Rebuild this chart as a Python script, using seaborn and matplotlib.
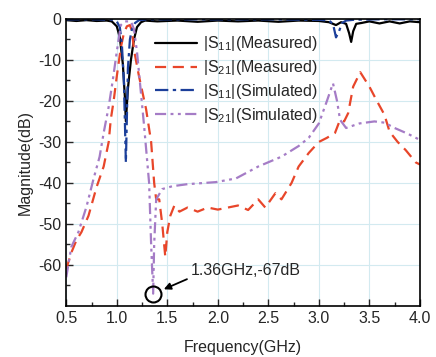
import numpy as np
import seaborn as sns
import matplotlib.pyplot as plt

# |S11| measured (black solid)
f_s11_meas = [0.5, 0.6, 0.7, 0.8, 0.9, 0.95, 1.0, 1.03, 1.06, 1.08, 1.09, 1.11, 1.14, 1.17, 1.2, 1.24, 1.28,
              1.4, 1.6, 1.8, 2.0, 2.2, 2.4, 2.6, 2.8, 3.0, 3.1, 3.17, 3.22, 3.27, 3.3, 3.32, 3.34, 3.37,
              3.42, 3.5, 3.6, 3.7, 3.8, 3.9, 4.0]
db_s11_meas = [-0.3, -0.5, -0.3, -0.5, -0.4, -0.6, -1.8, -4.5, -11, -19, -25, -17, -10, -5, -2, -0.8, -0.4,
               -0.6, -0.4, -0.7, -0.4, -0.6, -0.4, -0.7, -0.4, -0.5, -0.8, -1.5, -0.8, -1.2, -3.5, -5.6, -3.0, -1.2,
               -1.0, -0.6, -1.1, -0.6, -1.1, -0.6, -0.8]

# |S21| measured (red dashed)
f_s21_meas = [0.5, 0.55, 0.6, 0.65, 0.72, 0.8, 0.87, 0.92, 0.94, 0.97, 1.0, 1.04, 1.07, 1.1, 1.13, 1.15, 1.17,
              1.22, 1.29, 1.34, 1.37, 1.39, 1.42, 1.45, 1.48, 1.5, 1.53, 1.57, 1.62, 1.7, 1.8, 1.9, 2.0,
              2.1, 2.2, 2.3, 2.4, 2.47, 2.57, 2.63, 2.73, 2.8, 2.9, 3.0, 3.08, 3.16, 3.21, 3.25, 3.29,
              3.34, 3.41, 3.5, 3.57, 3.65, 3.7, 3.78, 3.86, 3.96, 4.0]
db_s21_meas = [-61, -57, -54, -52, -48, -41, -36, -30, -24.6, -19.8, -14, -7, -3.5, -1.8, -1.5, -3, -7.5,
               -14, -22, -30, -40, -44, -44, -50, -58, -52, -48, -45.5, -47, -46, -47, -46, -46.5,
               -46, -45.5, -46.6, -44, -46, -42.5, -44, -40, -36, -32.7, -30, -29, -27.8, -24.6, -25, -23,
               -16.5, -13, -16.5, -19.8, -23.4, -27.5, -30, -32, -35, -35.5]

# |S11| simulated (blue dash-dot)
f_s11_sim = [0.5, 0.8, 0.95, 1.0, 1.03, 1.05, 1.07, 1.08, 1.09, 1.1, 1.11, 1.13, 1.15, 1.18, 1.22, 1.3,
             1.6, 2.0, 2.5, 3.0, 3.1, 3.14, 3.17, 3.2, 3.23, 3.27, 3.35, 3.6, 4.0]
db_s11_sim = [-0.1, -0.1, -0.2, -0.6, -2, -6, -15, -25, -35, -24, -12, -5, -2.5, -1, -0.3, -0.1,
              -0.1, -0.1, -0.1, -0.2, -0.4, -1.2, -4.5, -3, -1, -0.4, -0.2, -0.1, -0.1]

# |S21| simulated (purple dash-dot-dot)
f_s21_sim = [0.5, 0.55, 0.62, 0.7, 0.77, 0.83, 0.87, 0.92, 0.96, 1.0, 1.04, 1.08, 1.14, 1.17, 1.2, 1.27,
             1.32, 1.34, 1.36, 1.37, 1.39, 1.45, 1.55, 1.7, 1.98, 2.18, 2.4, 2.63, 2.8, 2.9, 3.0,
             3.08, 3.14, 3.18, 3.21, 3.27, 3.4, 3.55, 3.65, 3.75, 3.88, 4.0]
db_s21_sim = [-63, -55.6, -52, -45.8, -39, -33.6, -27.8, -21.4, -15, -8, -1.5, -0.6, -0.6, -2.5, -8, -26,
              -40, -55, -67, -55, -44, -41.5, -40.8, -40.3, -39.8, -38.9, -36, -33.6, -31, -29, -25.5,
              -20, -15.7, -20, -24.6, -26.6, -25.5, -25, -25.3, -26.6, -28, -29.5]

labels = [r'|S$_{11}$|(Measured)', r'|S$_{21}$|(Measured)', r'|S$_{11}$|(Simulated)', r'|S$_{21}$|(Simulated)']
note_f, note_db = 1.36, -67

sns.set_style("white")
plt.rcParams['font.family'] = ['Liberation Sans', 'DejaVu Sans']
plt.rcParams['mathtext.fontset'] = 'custom'
plt.rcParams['mathtext.rm'] = 'Liberation Sans'
plt.rcParams['axes.unicode_minus'] = False

fig = plt.figure(figsize=(4.36, 3.57), dpi=100)
ax = fig.add_axes([0.152, 0.143, 0.811, 0.804])

series = [
    (f_s11_meas, db_s11_meas, 'black', None),
    (f_s21_meas, db_s21_meas, '#e8462a', (5, 3)),
    (f_s11_sim, db_s11_sim, '#1c3f9a', (6, 2, 1.5, 2)),
    (f_s21_sim, db_s21_sim, '#a57cc6', (5, 2, 1.3, 2, 1.3, 2)),
]
for (f, db, c, d), lab in zip(series, labels):
    sns.lineplot(x=f, y=db, ax=ax, color=c, linewidth=1.6, sort=False, label=lab)
    if d is not None:
        ax.lines[-1].set_dashes(d)

ax.set_xlim(0.5, 4.0)
ax.set_ylim(-70, 0)
ax.set_xticks(np.arange(0.5, 4.01, 0.5))
ax.set_xticks(np.arange(0.75, 4.0, 0.5), minor=True)
ax.set_yticks(np.arange(-60, 1, 10))
ax.set_yticks(np.arange(-65, 0, 10), minor=True)
ax.grid(True, which='major', color='#d3eaf0', linewidth=0.8)
ax.set_axisbelow(True)
ax.tick_params(which='both', direction='in', labelsize=11.5, bottom=True, left=True, top=False, right=False)
ax.tick_params(which='major', length=5, width=1)
ax.tick_params(which='minor', length=3, width=1)
for sp in ax.spines.values():
    sp.set_color('black')
    sp.set_linewidth(1.2)

ax.set_xlabel('Frequency(GHz)', fontsize=11.5, labelpad=10)
ax.set_ylabel('Magnitude(dB)', fontsize=11.5, labelpad=4)

leg = ax.legend(loc='upper left', bbox_to_anchor=(0.22, 0.985), frameon=False, fontsize=11.5,
                handlelength=2.6, handletextpad=0.4, labelspacing=0.3, borderpad=0.2)

ax.plot([note_f], [note_db], marker='o', markersize=11.5, markerfacecolor='none',
        markeredgecolor='black', markeredgewidth=1.5, clip_on=False)
ax.annotate('', xy=(note_f + 0.08, note_db + 0.8), xytext=(note_f + 0.36, note_db + 3.8),
            arrowprops=dict(arrowstyle='-|>', color='black', lw=1.3, mutation_scale=10))
ax.text(note_f + 0.37, note_db + 5.7, f'{note_f}GHz,{note_db}dB', fontsize=11.5, va='center', ha='left')

fig.savefig('out.png', dpi=100)
